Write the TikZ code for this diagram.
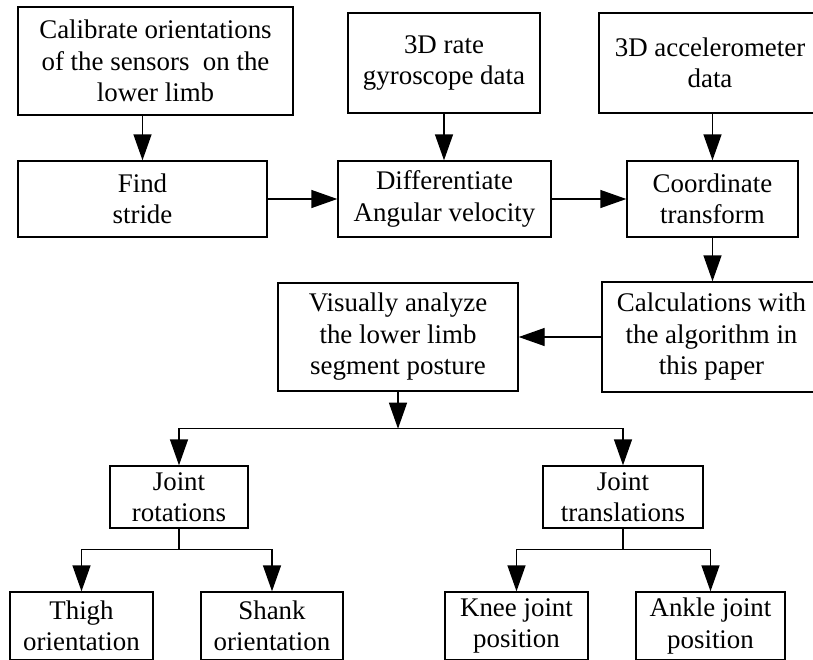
\documentclass[tikz,border=0pt]{standalone}
\usepackage{fontspec}
\setmainfont{Liberation Serif}
\usetikzlibrary{arrows.meta}
\begin{document}
\begin{tikzpicture}[x=1pt,y=-1pt,
  box/.style={draw,line width=1.4pt,inner sep=0pt,align=center,
    font=\fontsize{26.9}{31.5}\selectfont},
  arr/.style={line width=1.4pt,-{Triangle[length=26pt,width=18pt]}},
  ln/.style={line width=1.4pt}]
\useasboundingbox (0,0) rectangle (813,659);
\fill[white] (0,0) rectangle (813,659);
% top row
\node[box,minimum width=275pt,minimum height=108pt] (cal) at (155.5,61) {Calibrate orientations\\of the sensors\ \ on the\\lower limb};
\node[box,minimum width=192pt,minimum height=100pt] (gyr) at (444,63) {3D rate\\gyroscope data};
\node[box,minimum width=222pt,minimum height=100pt] (acc) at (710,63) {3D accelerometer\\data};
% second row
\node[box,minimum width=249pt,minimum height=76pt] (fs) at (142.5,199) {Find\\stride};
\node[box,minimum width=213pt,minimum height=76pt] (dif) at (444.5,199) {Differentiate\\Angular velocity};
\node[box,minimum width=171pt,minimum height=76pt] (ct) at (712.5,199) {Coordinate\\transform};
% third row
\node[box,minimum width=219pt,minimum height=110pt] (calc) at (711.5,337) {Calculations with\\the algorithm in\\this paper};
\node[box,minimum width=240pt,minimum height=108pt] (vis) at (398,337) {Visually analyze\\the lower limb\\segment posture};
% fourth row
\node[box,minimum width=138pt,minimum height=62pt] (jr) at (179,497) {Joint\\rotations};
\node[box,minimum width=160pt,minimum height=62pt] (jt) at (623,497) {Joint\\translations};
% bottom row
\node[box,minimum width=143pt,minimum height=68pt] (th) at (81.5,626) {Thigh\\orientation};
\node[box,minimum width=142pt,minimum height=68pt] (sh) at (272,626) {Shank\\orientation};
\node[box,minimum width=143pt,minimum height=68pt] (kn) at (516.5,626) {Knee joint\\position};
\node[box,minimum width=149pt,minimum height=68pt] (an) at (710.5,626) {Ankle joint\\position};
% connectors
\draw[arr] (cal.south -| fs.north) -- (fs.north);
\draw[arr] (gyr.south) -- (gyr.south |- dif.north);
\draw[arr] (acc.south -| ct.north) -- (ct.north);
\draw[arr] (fs.east) -- (dif.west);
\draw[arr] (dif.east) -- (ct.west);
\draw[arr] (ct.south) -- (ct.south |- calc.north);
\draw[arr] (calc.west) -- (calc.west -| vis.east);
\coordinate (s1) at ([yshift=-37pt]vis.south);
\draw[arr] (vis.south) -- (s1);
\draw[arr] (s1) -| (jr.north);
\draw[arr] (s1) -| (jt.north);
\coordinate (s2) at ([yshift=-21pt]jr.south);
\draw[ln] (jr.south) -- (s2);
\draw[arr] (s2) -| (th.north);
\draw[arr] (s2) -| (sh.north);
\coordinate (s3) at ([yshift=-21pt]jt.south);
\draw[ln] (jt.south) -- (s3);
\draw[arr] (s3) -| (kn.north);
\draw[arr] (s3) -| (an.north);
\end{tikzpicture}
\end{document}
